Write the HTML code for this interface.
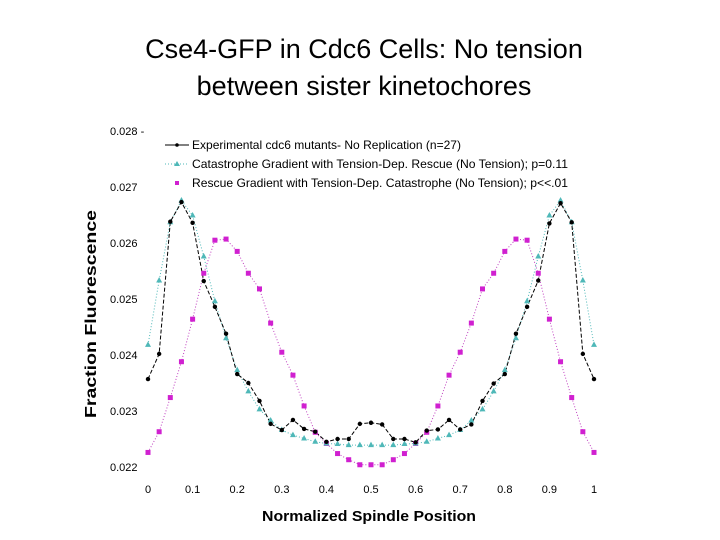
<!DOCTYPE html>
<html><head><meta charset="utf-8"><style>
body{margin:0;background:#fff;}
svg{display:block;font-family:"Liberation Sans",sans-serif;}
</style></head><body>
<svg id="chart" width="720" height="540" viewBox="0 0 720 540">
<text x="364" y="58" font-size="27" text-anchor="middle">Cse4-GFP in Cdc6 Cells: No tension</text>
<text x="364" y="95" font-size="27" text-anchor="middle">between sister kinetochores</text>
<text transform="translate(96,314) rotate(-90)" font-size="16" font-weight="bold" text-anchor="middle" textLength="208" lengthAdjust="spacingAndGlyphs">Fraction Fluorescence</text>
<text x="369" y="521" font-size="15" font-weight="bold" text-anchor="middle" textLength="214" lengthAdjust="spacingAndGlyphs">Normalized Spindle Position</text>
<g id="ticks"></g>
<g id="series"></g>
<g>
<line x1="165" y1="145" x2="189" y2="145" stroke="#000" stroke-width="1"/>
<circle cx="177" cy="145" r="1.8" fill="#000"/>
<text x="192" y="149" font-size="12" textLength="269" lengthAdjust="spacingAndGlyphs">Experimental cdc6 mutants- No Replication (n=27)</text>
<line x1="165" y1="164" x2="189" y2="164" stroke="#4fb8b8" stroke-width="1" stroke-dasharray="1,2"/>
<polygon points="177,161 180,166 174,166" fill="#4fb8b8"/>
<text x="192" y="168" font-size="12" textLength="376" lengthAdjust="spacingAndGlyphs">Catastrophe Gradient with Tension-Dep. Rescue  (No Tension);  p=0.11</text>
<rect x="175" y="181" width="4" height="4" fill="#d020d0"/>
<text x="192" y="187" font-size="12" textLength="376" lengthAdjust="spacingAndGlyphs">Rescue Gradient with Tension-Dep. Catastrophe  (No Tension);  p&lt;&lt;.01</text>
</g>
</svg>
<script>
const xs = [0,0.025,0.05,0.075,0.1,0.125,0.15,0.175,0.2,0.225,0.25,0.275,0.3,0.325,0.35,0.375,0.4,0.425,0.45,0.475,0.5,0.525,0.55,0.575,0.6,0.625,0.65,0.675,0.7,0.725,0.75,0.775,0.8,0.825,0.85,0.875,0.9,0.925,0.95,0.975,1];
const experimental = [0.02357,0.02402,0.02638,0.02673,0.02636,0.02532,0.02486,0.02438,0.02366,0.0235,0.02318,0.02277,0.02266,0.02284,0.02268,0.02263,0.02245,0.0225,0.0225,0.02277,0.02279,0.02276,0.0225,0.0225,0.02244,0.02265,0.02267,0.02284,0.02267,0.02276,0.02318,0.02349,0.02366,0.02438,0.02486,0.02533,0.02635,0.02671,0.02637,0.02402,0.02357];
const catastrophe = [0.02418,0.02533,0.02637,0.02676,0.02649,0.02576,0.02496,0.0243,0.02373,0.02335,0.02303,0.02283,0.02266,0.02257,0.02251,0.02245,0.02242,0.02241,0.02239,0.02239,0.02239,0.02239,0.02239,0.02241,0.02242,0.02245,0.02251,0.02257,0.02266,0.02283,0.02303,0.02335,0.02373,0.0243,0.02496,0.02576,0.02649,0.02676,0.02637,0.02533,0.02418];
const rescue = [0.02226,0.02263,0.02324,0.02388,0.02464,0.02546,0.02605,0.02607,0.02585,0.02546,0.02518,0.02457,0.02405,0.02364,0.02309,0.02262,0.02242,0.02224,0.02213,0.02204,0.02204,0.02204,0.02213,0.02224,0.02242,0.02262,0.02309,0.02364,0.02405,0.02457,0.02518,0.02546,0.02585,0.02607,0.02605,0.02546,0.02464,0.02388,0.02324,0.02263,0.02226];
const xTicks = [0,0.1,0.2,0.3,0.4,0.5,0.6,0.7,0.8,0.9,1];
const xTickLabels = ["0","0.1","0.2","0.3","0.4","0.5","0.6","0.7","0.8","0.9","1"];
const yTicks = [0.022,0.023,0.024,0.025,0.026,0.027,0.028];
const yTickLabels = ["0.022","0.023","0.024","0.025","0.026","0.027","0.028 -"];

const NS = "http://www.w3.org/2000/svg";
const X = v => 148 + v * 446;
const Y = v => 467 - (v - 0.022) * 56000;
function mk(tag, attrs, parent){const e=document.createElementNS(NS,tag);for(const k in attrs)e.setAttribute(k,attrs[k]);parent.appendChild(e);return e;}
const ticks = document.getElementById('ticks');
xTicks.forEach((t,i)=>{
  const tx = mk('text',{x:X(t),y:493,'font-size':11,'text-anchor':'middle'},ticks);
  tx.textContent = xTickLabels[i];
  
  
});
yTicks.forEach((t,i)=>{
  const tx = mk('text',{x:110,y:Y(t)+4,'font-size':11},ticks);
  tx.textContent = yTickLabels[i];
  
  
});
const g = document.getElementById('series');
function line(vals, color, dash, name){
  const p = mk('polyline',{points:vals.map((v,i)=>X(xs[i])+','+Y(v)).join(' '),fill:'none',stroke:color,'stroke-width':1,'stroke-dasharray':dash},g);
  
  
}
line(rescue,'#c040c0','1,2','rescue-line');
line(catastrophe,'#4fb8b8','1,2','catastrophe-line');
line(experimental,'#000','4,2','experimental-line');
rescue.forEach((v,i)=>{
  const r = mk('rect',{x:X(xs[i])-2.5,y:Y(v)-2.5,width:5,height:5,fill:'#d020d0'},g);
  
  
});
catastrophe.forEach((v,i)=>{
  const x=X(xs[i]), y=Y(v);
  const p = mk('polygon',{points:`${x},${y-3.5} ${x+3},${y+2} ${x-3},${y+2}`,fill:'#4fb8b8'},g);
  
  
});
experimental.forEach((v,i)=>{
  const c = mk('circle',{cx:X(xs[i]),cy:Y(v),r:2.2,fill:'#000'},g);
  
  
});
</script>
</body></html>
